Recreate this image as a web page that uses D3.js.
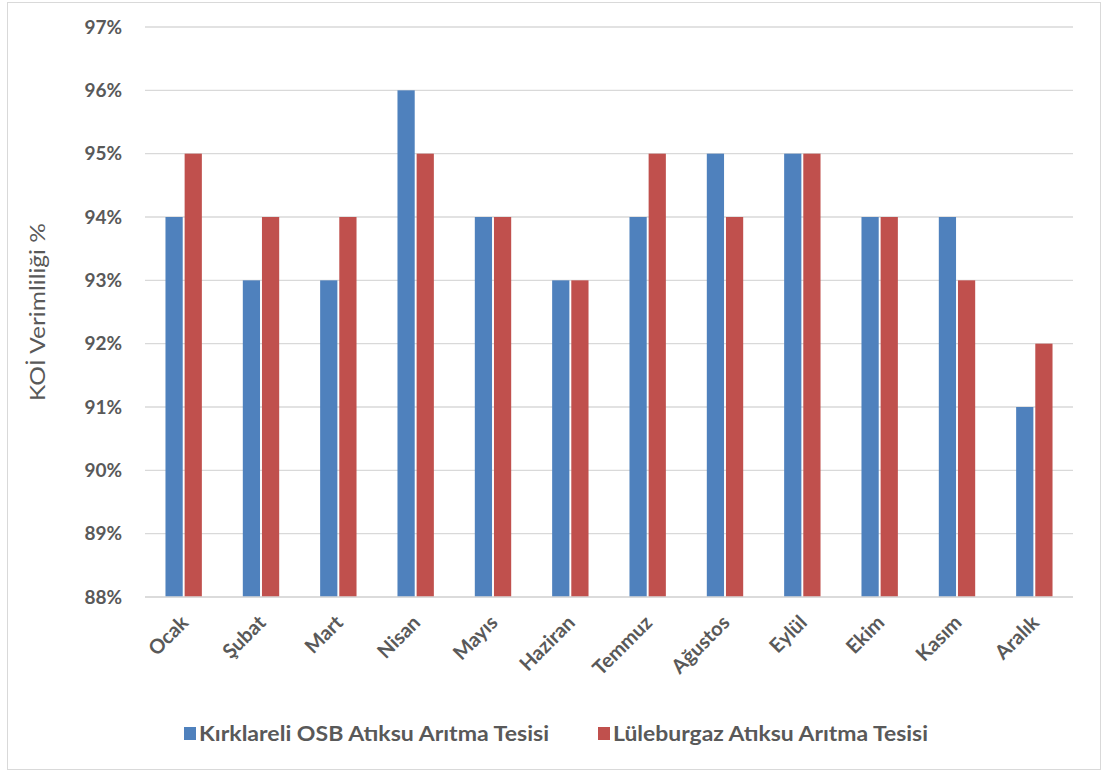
<!DOCTYPE html>
<html>
<head>
<meta charset="utf-8">
<script src="https://cdn.jsdelivr.net/npm/d3@7"></script>
<style>
  body { margin: 0; background: #fff; }
  text { font-family: Lato, "Open Sans", sans-serif; }
</style>
</head>
<body>
<div id="chart"></div>
<script>
// months and the two plants' values (%)
var months = ["Ocak", "Şubat", "Mart", "Nisan", "Mayıs", "Haziran", "Temmuz", "Ağustos", "Eylül", "Ekim", "Kasım", "Aralık"];
var seriesNames = ["Kırklareli OSB Atıksu Arıtma Tesisi", "Lüleburgaz Atıksu Arıtma Tesisi"];
var kirklareli = [94, 93, 93, 96, 94, 93, 94, 95, 95, 94, 94, 91];
var luleburgaz = [95, 94, 94, 95, 94, 93, 95, 94, 95, 94, 93, 92];
var yTicks = [88, 89, 90, 91, 92, 93, 94, 95, 96, 97];
var colors = ["#4F81BD", "#C0504D"];

var width = 1103, height = 773;
var plotLeft = 145, plotRight = 1073, plotTop = 27, plotBottom = 597;

var svg = d3.select("#chart").append("svg")
    .attr("width", width)
    .attr("height", height);

// chart border
svg.append("rect")
    .attr("x", 7.5).attr("y", 2.5)
    .attr("width", 1093).attr("height", 767)
    .attr("fill", "#fff")
    .attr("stroke", "#d9d9d9");

var x0 = d3.scaleBand().domain(months).range([plotLeft, plotRight]).paddingInner(0.48).paddingOuter(0.24);
var x1 = d3.scaleBand().domain([0, 1]).range([0, x0.bandwidth()]).padding(0.1);
var y = d3.scaleLinear().domain([88, 97]).range([plotBottom, plotTop]);

// gridlines
svg.append("g").selectAll("line")
    .data(yTicks)
    .enter().append("line")
    .attr("x1", plotLeft).attr("x2", plotRight)
    .attr("y1", function (d) { return y(d); })
    .attr("y2", function (d) { return y(d); })
    .attr("stroke", "#d9d9d9")
    .attr("stroke-width", 1.3);

// y labels
svg.append("g").selectAll("text")
    .data(yTicks)
    .enter().append("text")
    .attr("x", 122)
    .attr("y", function (d) { return y(d); })
    .attr("dy", "0.35em")
    .attr("text-anchor", "end")
    .attr("font-size", 19)
    .attr("font-weight", "bold")
    .attr("fill", "#595959")
    .text(function (d) { return d + "%"; });

// bars
var data = months.map(function (m, i) { return { month: m, values: [kirklareli[i], luleburgaz[i]] }; });
var groups = svg.append("g").selectAll("g")
    .data(data)
    .enter().append("g")
    .attr("transform", function (d) { return "translate(" + x0(d.month) + ",0)"; });

groups.selectAll("rect")
    .data(function (d) { return d.values; })
    .enter().append("rect")
    .attr("x", function (d, i) { return x1(i); })
    .attr("y", function (d) { return y(d); })
    .attr("width", x1.bandwidth())
    .attr("height", function (d) { return plotBottom - y(d); })
    .attr("fill", function (d, i) { return colors[i]; });

// x axis line
svg.append("line")
    .attr("x1", plotLeft).attr("x2", plotRight)
    .attr("y1", plotBottom).attr("y2", plotBottom)
    .attr("stroke", "#d9d9d9")
    .attr("stroke-width", 1.5);

// x labels
svg.append("g").selectAll("text")
    .data(months)
    .enter().append("text")
    .attr("transform", function (d) {
        return "translate(" + (x0(d) + x0.bandwidth() / 2 - 4) + "," + (plotBottom + 17) + ") rotate(-45)";
    })
    .attr("text-anchor", "end")
    .attr("dy", "0.7em")
    .attr("font-size", 20)
    .attr("font-weight", "bold")
    .attr("fill", "#595959")
    .text(function (d) { return d; });

// y axis title
svg.append("text")
    .attr("transform", "translate(37," + 312 + ") rotate(-90)")
    .attr("text-anchor", "middle")
    .attr("dy", "0.35em")
    .attr("font-size", 22)
    .attr("fill", "#595959")
    .attr("textLength", 178)
    .attr("lengthAdjust", "spacingAndGlyphs")
    .text("KOİ Verimliliği %");

// legend
var legendX = [184, 598];
var legendLen = [350, 315];
var legend = svg.append("g").selectAll("g")
    .data(seriesNames)
    .enter().append("g")
    .attr("transform", function (d, i) { return "translate(" + legendX[i] + ",727)"; });

legend.append("rect")
    .attr("width", 12).attr("height", 13)
    .attr("fill", function (d, i) { return colors[i]; });

legend.append("text")
    .attr("x", 15).attr("y", 14)
    .attr("font-size", 21)
    .attr("font-weight", "bold")
    .attr("fill", "#595959")
    .attr("textLength", function (d, i) { return legendLen[i]; })
    .attr("lengthAdjust", "spacingAndGlyphs")
    .text(function (d) { return d; });
</script>
</body>
</html>
